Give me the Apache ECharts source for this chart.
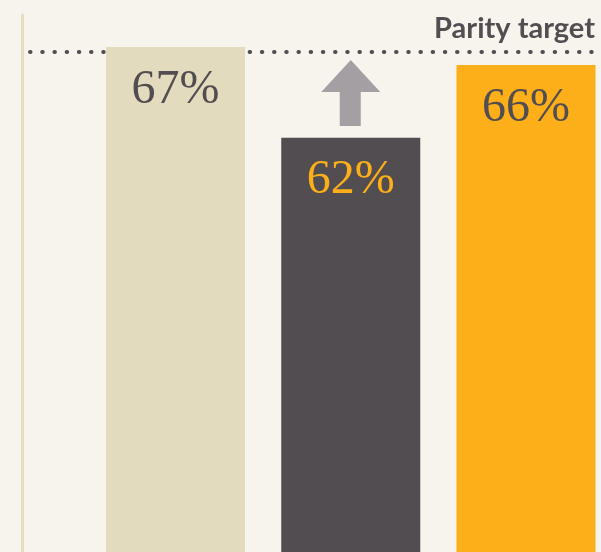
<!DOCTYPE html>
<html>
<head>
<meta charset="utf-8">
<script src="https://cdn.jsdelivr.net/npm/echarts@6/dist/echarts.min.js"></script>
<style>
  html, body { margin: 0; padding: 0; background: #f7f4ee; }
  #chart { width: 601px; height: 552px; }
</style>
</head>
<body>
<div id="chart"></div>
<script>
// data
var positions = [1, 2, 3];
var shares = [67, 62, 66];
var barColors = ['#e3dbbd', '#524d50', '#fcaf18'];
var labelColors = ['#524d50', '#fcaf18', '#524d50'];
var parityTarget = 66.72;
var arrowAt = [2, 64.46];

var chart = echarts.init(document.getElementById('chart'));

var barData = positions.map(function (p, i) {
    return {
        value: [p, shares[i]],
        itemStyle: {color: barColors[i]},
        label: {color: labelColors[i]}
    };
});

var option = {
    backgroundColor: '#f7f4ee',
    animation: false,
    grid: {left: 22, right: 0, top: 15, bottom: 0},
    xAxis: {
        type: 'value',
        min: 0.124,
        max: 3.428,
        show: false
    },
    yAxis: {
        type: 'value',
        min: 39.19,
        max: 68.76,
        axisLine: {show: true, onZero: false, lineStyle: {color: '#e6dcbf', width: 3}},
        axisTick: {show: false},
        axisLabel: {show: false},
        splitLine: {show: false}
    },
    series: [
        {
            // parity target line, kept behind the bars
            type: 'line',
            z: 1,
            data: [],
            markLine: {
                z: 1,
                silent: true,
                symbol: 'none',
                lineStyle: {color: '#524d50', width: 4, type: [0.5, 11.7], cap: 'round'},
                label: {
                    show: true,
                    position: 'insideEndTop',
                    formatter: 'Parity target',
                    color: '#524d50',
                    fontFamily: 'Lato',
                    fontWeight: 'bold',
                    fontSize: 29,
                    distance: [0, 9]
                },
                data: [[{coord: [0.1698, parityTarget]}, {coord: [3.3937, parityTarget]}]]
            }
        },
        {
            type: 'bar',
            z: 2,
            barWidth: 139,
            data: barData,
            label: {
                show: true,
                position: 'insideTop',
                distance: 19,
                fontFamily: '"Palatino Linotype", "Book Antiqua", "Liberation Serif", serif',
                fontSize: 48,
                formatter: function (p) { return p.value[1] + '%'; }
            },
            markPoint: {
                silent: true,
                symbol: 'path://M29.5,0 L59,32 L39.5,32 L39.5,66 L18.5,66 L18.5,32 L0,32 Z',
                symbolSize: [59, 66],
                itemStyle: {color: '#a39fa3'},
                label: {show: false},
                data: [{coord: arrowAt}]
            }
        }
    ]
};

chart.setOption(option);
</script>
</body>
</html>
